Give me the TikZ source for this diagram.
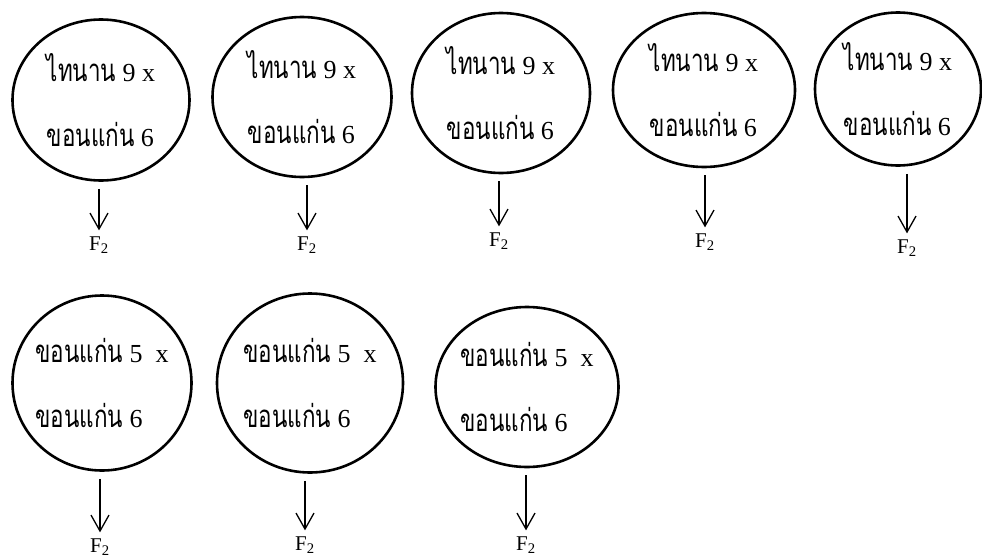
\documentclass[tikz,border=0pt]{standalone}
\usepackage{fontspec}
\setmainfont{Liberation Serif}
\newfontfamily\thaifont[Script=Thai,FakeStretch=0.72,Scale=1.2]{Loma}
\usetikzlibrary{shapes.geometric,arrows.meta}

\newcommand{\thword}[1]{{\thaifont #1}}

\begin{document}
\begin{tikzpicture}[x=1pt, y=-1pt,
    cross/.style={ellipse, draw, line width=2.6pt, align=left,
      inner xsep=-15pt, inner ysep=0pt, font=\fontsize{26}{65}\selectfont},
    gen/.style={font=\fontsize{21}{24}\selectfont, inner sep=1pt},
    flow/.style={-{Straight Barb[length=16pt,width=18pt]}, line width=1.3pt,
      shorten <=7pt, shorten >=5pt}]

    \useasboundingbox (0,0) rectangle (982,557);

    % parents: thainan 9 x khonkaen 6
    \foreach \n/\cx/\cy/\w/\h/\fx/\fy in
        {1/101/100/177/161/99/245, 2/302/97/179/160/307/245,
         3/501/93/178/160/499/241, 4/704/90/182/154/705/242,
         5/898/89/166/153/907/248}
    {
        \node[cross, minimum width=\w pt, minimum height=\h pt] (e\n) at (\cx,\cy)
            {\thword{ไทนาน} 9 x\\\thword{ขอนแก่น} 6};
        \node[gen] (f\n) at (\fx,\fy) {F\textsubscript{2}};
        \draw[flow] (f\n |- e\n.south) -- (f\n);
    }

    % parents: khonkaen 5 x khonkaen 6
    \foreach \n/\cx/\cy/\w/\h/\fx/\fy in
        {6/102/383/179/175/100/547, 7/310/383/186/179/305/545,
         8/527/387/183/160/526/545}
    {
        \node[cross, minimum width=\w pt, minimum height=\h pt] (e\n) at (\cx,\cy)
            {\thword{ขอนแก่น} 5~~x\\\thword{ขอนแก่น} 6};
        \node[gen] (f\n) at (\fx,\fy) {F\textsubscript{2}};
        \draw[flow] (f\n |- e\n.south) -- (f\n);
    }

\end{tikzpicture}
\end{document}
